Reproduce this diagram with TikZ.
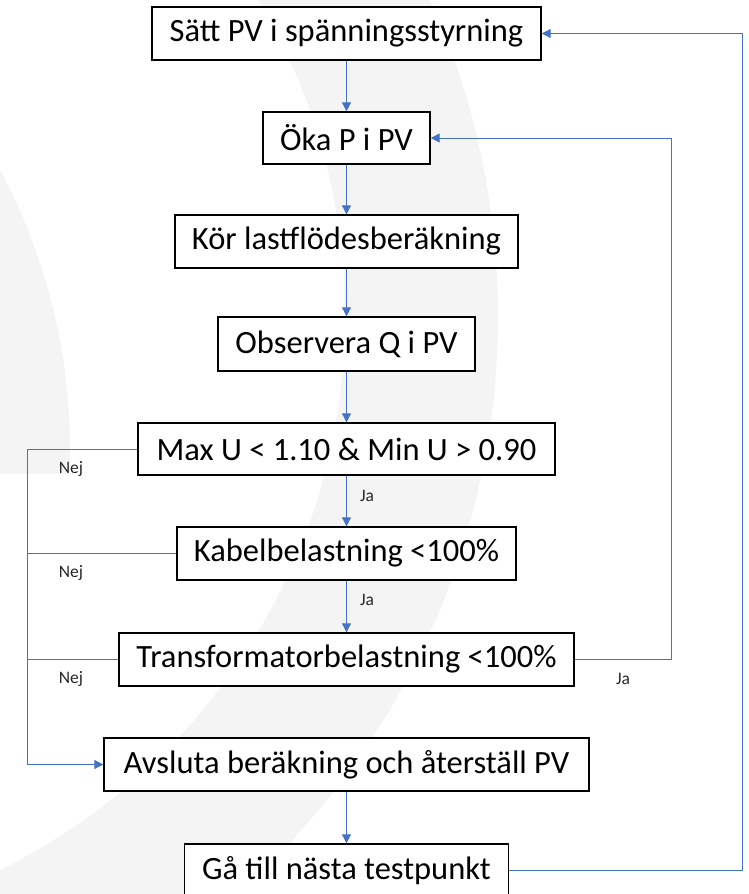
\documentclass[tikz,border=0pt]{standalone}
\usepackage{fontspec}
\setmainfont{Carlito}
\usetikzlibrary{arrows.meta}
\definecolor{lnblue}{HTML}{4472C4}
\definecolor{wmgray}{HTML}{F4F4F4}
\begin{document}
\begin{tikzpicture}[x=1pt,y=-1pt,
  boxnode/.style={draw=black, fill=white, line width=1.4pt, inner sep=0pt,
    font=\fontsize{32.5}{39}\selectfont},
  conn/.style={draw=lnblue, line width=1pt},
  arr/.style={conn, -{Triangle[length=9pt,width=9pt]}},
  smalllbl/.style={font=\fontsize{17.5}{21}\selectfont, text=black!85, inner sep=0pt}
]
\useasboundingbox (0,0) rectangle (748,894);
% background watermark
\begin{scope}
  \clip (0,0) rectangle (748,894);
  \fill[wmgray, even odd rule] (-272,316) circle[radius=770pt] (-272,316) circle[radius=617pt];
\end{scope}
\begin{scope}
  \clip (0,0) rectangle (748,473);
  \fill[wmgray] (-525,450) circle[radius=595pt];
\end{scope}
% boxes
\node[boxnode, minimum width=389pt, minimum height=53pt] (b1) at (346.5,33.5) {Sätt PV i spänningsstyrning};
\node[boxnode, minimum width=167pt, minimum height=52pt] (b2) at (346.5,138) {Öka P i PV};
\node[boxnode, minimum width=343pt, minimum height=53pt] (b3) at (346.5,241.5) {Kör lastflödesberäkning};
\node[boxnode, minimum width=257pt, minimum height=54pt] (b4) at (346.5,344) {Observera Q i PV};
\node[boxnode, minimum width=417pt, minimum height=52pt] (b5) at (346.5,449) {Max U < 1.10 \& Min U > 0.90};
\node[boxnode, minimum width=339pt, minimum height=53pt] (b6) at (346.5,553.5) {Kabelbelastning <100\%};
\node[boxnode, minimum width=455pt, minimum height=53pt] (b7) at (346.5,659.5) {Transformatorbelastning <100\%};
\node[boxnode, minimum width=485pt, minimum height=53pt] (b8) at (346.5,764.5) {Avsluta beräkning och återställ PV};
\node[boxnode, minimum width=324pt, minimum height=53pt] (b9) at (346.5,870.5) {Gå till nästa testpunkt};
% helper coordinates
\coordinate (L) at (27,449);
\coordinate (R1) at (671,138);
\coordinate (R2) at (742,33.5);
% vertical arrows
\draw[arr] (b1) -- (b2);
\draw[arr] (b2) -- (b3);
\draw[arr] (b3) -- (b4);
\draw[arr] (b4) -- (b5);
\draw[arr] (b5) -- (b6);
\draw[arr] (b6) -- (b7);
\draw[arr] (b8) -- (b9);
% Nej branches
\draw[arr] (b5.west) -- (L) |- (b8.west);
\draw[conn] (b6.west) -- (b6.west -| L);
\draw[conn] (b7.west) -- (b7.west -| L);
% Ja loop back
\draw[arr] (b7.east) -| (R1) -- (b2.east);
% next test point loop
\draw[arr] (b9.east) -| (R2) -- (b1.east);
% labels
\node[smalllbl] (n1) at (71,469) {Nej};
\node[smalllbl] (n2) at (71,573) {Nej};
\node[smalllbl] (n3) at (71,679) {Nej};
\node[smalllbl] (j1) at (367,496) {Ja};
\node[smalllbl] (j2) at (367,600) {Ja};
\node[smalllbl] (j3) at (623,679) {Ja};
\end{tikzpicture}
\end{document}
